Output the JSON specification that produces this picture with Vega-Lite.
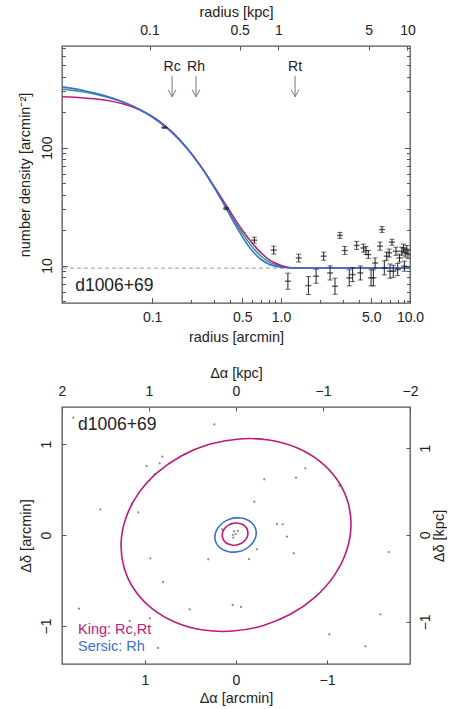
{
  "$schema": "https://vega.github.io/schema/vega-lite/v6.json",
  "padding": {"left": 16, "top": 3, "right": 0, "bottom": 0},
  "config": {
    "view": {"stroke": "#555", "strokeWidth": 1.3},
    "font": "Liberation Sans",
    "axis": {"domain": false, "grid": false, "labelFont": "Liberation Sans", "titleFont": "Liberation Sans", "labelFontSize": 14, "titleFontSize": 14.5, "titleFontWeight": "normal", "labelColor": "#222", "titleColor": "#222", "tickColor": "#555", "tickSize": -4, "labelPadding": 13, "titlePadding": 4, "labelFlush": false, "labelOverlap": false}
  },
  "datasets": {
    "green": [
      {"r": 0.02, "n": 315}, {"r": 0.03, "n": 296}, {"r": 0.04, "n": 277}, {"r": 0.05, "n": 259}, {"r": 0.06, "n": 242}, {"r": 0.08, "n": 210}, {"r": 0.1, "n": 183}, {"r": 0.125, "n": 153}, {"r": 0.15, "n": 128}, {"r": 0.18, "n": 103.4}, {"r": 0.21, "n": 84}, {"r": 0.25, "n": 64.3}, {"r": 0.3, "n": 47.2}, {"r": 0.35, "n": 35.7}, {"r": 0.4, "n": 28}, {"r": 0.45, "n": 22.5}, {"r": 0.5, "n": 18.8}, {"r": 0.6, "n": 14.3}, {"r": 0.7, "n": 12}, {"r": 0.8, "n": 10.8}, {"r": 0.9, "n": 10.2}, {"r": 1.0, "n": 9.85}, {"r": 1.1, "n": 9.65}, {"r": 1.2, "n": 9.55}, {"r": 1.3, "n": 9.5}, {"r": 10, "n": 9.5}
    ],
    "king": [
      {"r": 0.02, "n": 270.2}, {"r": 0.03, "n": 263.9}, {"r": 0.04, "n": 255.6}, {"r": 0.05, "n": 245.6}, {"r": 0.06, "n": 234.4}, {"r": 0.08, "n": 209.7}, {"r": 0.1, "n": 184.5}, {"r": 0.125, "n": 154.9}, {"r": 0.15, "n": 129.1}, {"r": 0.18, "n": 103.8}, {"r": 0.21, "n": 84.0}, {"r": 0.25, "n": 64.4}, {"r": 0.3, "n": 47.6}, {"r": 0.35, "n": 36.5}, {"r": 0.4, "n": 29.0}, {"r": 0.45, "n": 23.7}, {"r": 0.5, "n": 20.0}, {"r": 0.6, "n": 15.4}, {"r": 0.7, "n": 12.8}, {"r": 0.8, "n": 11.3}, {"r": 0.9, "n": 10.5}, {"r": 1.0, "n": 10.0}, {"r": 1.1, "n": 9.71}, {"r": 1.2, "n": 9.56}, {"r": 1.3, "n": 9.51}, {"r": 1.35, "n": 9.5}, {"r": 10, "n": 9.5}
    ],
    "sersic": [
      {"r": 0.02, "n": 327.5}, {"r": 0.03, "n": 304.1}, {"r": 0.04, "n": 282.4}, {"r": 0.05, "n": 262.3}, {"r": 0.06, "n": 243.6}, {"r": 0.08, "n": 210.4}, {"r": 0.1, "n": 182.0}, {"r": 0.125, "n": 151.9}, {"r": 0.15, "n": 127.1}, {"r": 0.18, "n": 103.0}, {"r": 0.21, "n": 83.8}, {"r": 0.25, "n": 64.2}, {"r": 0.3, "n": 46.8}, {"r": 0.35, "n": 35.0}, {"r": 0.4, "n": 26.9}, {"r": 0.45, "n": 21.35}, {"r": 0.5, "n": 17.58}, {"r": 0.6, "n": 13.26}, {"r": 0.7, "n": 11.25}, {"r": 0.8, "n": 10.31}, {"r": 0.9, "n": 9.88}, {"r": 1.0, "n": 9.68}, {"r": 1.1, "n": 9.58}, {"r": 1.2, "n": 9.54}, {"r": 1.3, "n": 9.52}, {"r": 1.5, "n": 9.5}, {"r": 10, "n": 9.5}
    ],
    "obs": [
      {"r": 0.1245, "n": 148, "lo": 146, "hi": 150},
      {"r": 0.375, "n": 30.5, "lo": 29.8, "hi": 31.2},
      {"r": 0.621, "n": 16.4, "lo": 15.5, "hi": 17.4},
      {"r": 0.877, "n": 13.5, "lo": 12.5, "hi": 14.6},
      {"r": 1.13, "n": 7.36, "lo": 6.29, "hi": 8.61},
      {"r": 1.37, "n": 11.6, "lo": 10.7, "hi": 12.5},
      {"r": 1.63, "n": 6.76, "lo": 5.67, "hi": 8.06},
      {"r": 1.87, "n": 8.1, "lo": 7.06, "hi": 9.29},
      {"r": 2.14, "n": 12.0, "lo": 11.1, "hi": 13.0},
      {"r": 2.4, "n": 8.65, "lo": 7.54, "hi": 9.92},
      {"r": 2.62, "n": 6.67, "lo": 5.7, "hi": 7.8},
      {"r": 2.86, "n": 18.0, "lo": 17.0, "hi": 19.1},
      {"r": 3.12, "n": 13.4, "lo": 12.4, "hi": 14.5},
      {"r": 3.38, "n": 7.86, "lo": 6.72, "hi": 9.2},
      {"r": 3.59, "n": 8.38, "lo": 7.31, "hi": 9.61},
      {"r": 3.86, "n": 14.8, "lo": 13.7, "hi": 16.0},
      {"r": 4.12, "n": 8.65, "lo": 7.54, "hi": 9.92},
      {"r": 4.35, "n": 14.1, "lo": 13.0, "hi": 15.2},
      {"r": 4.56, "n": 13.4, "lo": 12.4, "hi": 14.5},
      {"r": 4.75, "n": 12.4, "lo": 11.5, "hi": 13.4},
      {"r": 4.99, "n": 7.86, "lo": 6.72, "hi": 9.2},
      {"r": 5.2, "n": 7.86, "lo": 6.72, "hi": 9.2},
      {"r": 5.36, "n": 10.5, "lo": 9.52, "hi": 11.6},
      {"r": 5.85, "n": 14.6, "lo": 13.5, "hi": 15.8},
      {"r": 6.07, "n": 20.2, "lo": 19.1, "hi": 21.4},
      {"r": 6.32, "n": 9.55, "lo": 8.33, "hi": 10.95},
      {"r": 6.6, "n": 12.0, "lo": 11.1, "hi": 13.0},
      {"r": 6.9, "n": 12.8, "lo": 11.8, "hi": 13.8},
      {"r": 7.25, "n": 15.8, "lo": 14.9, "hi": 16.7},
      {"r": 7.0, "n": 8.95, "lo": 7.8, "hi": 10.3},
      {"r": 7.42, "n": 8.94, "lo": 7.95, "hi": 10.06},
      {"r": 7.78, "n": 13.2, "lo": 12.2, "hi": 14.3},
      {"r": 8.03, "n": 9.25, "lo": 8.22, "hi": 10.4},
      {"r": 8.29, "n": 11.6, "lo": 10.7, "hi": 12.5},
      {"r": 8.65, "n": 13.2, "lo": 12.2, "hi": 14.3},
      {"r": 8.9, "n": 14.1, "lo": 13.0, "hi": 15.2},
      {"r": 9.17, "n": 12.8, "lo": 11.8, "hi": 13.8},
      {"r": 9.45, "n": 13.7, "lo": 12.7, "hi": 14.8},
      {"r": 9.65, "n": 12.4, "lo": 11.5, "hi": 13.4},
      {"r": 9.04, "n": 9.87, "lo": 8.95, "hi": 10.9}
    ],
    "arrows": [
      {"r": 0.1429, "n1": 407, "n2": 270, "nt": 479, "lab": "Rc"},
      {"r": 0.219, "n1": 407, "n2": 270, "nt": 479, "lab": "Rh"},
      {"r": 1.284, "n1": 407, "n2": 270, "nt": 479, "lab": "Rt"}
    ],
    "stars": [
      {"a": 1.788, "d": 1.289}, {"a": 0.238, "d": 1.216}, {"a": 0.557, "d": 0.89}, {"a": 0.81, "d": 0.861}, {"a": 0.838, "d": 0.788}, {"a": 0.981, "d": 0.758}, {"a": 0.893, "d": 0.67}, {"a": -0.762, "d": 0.733}, {"a": -0.659, "d": 0.63}, {"a": -0.311, "d": 0.612}, {"a": -1.135, "d": 0.542}, {"a": -0.201, "d": 0.366}, {"a": 1.491, "d": 0.282}, {"a": 1.146, "d": 0.341}, {"a": 1.073, "d": 0.249}, {"a": -0.451, "d": 0.121}, {"a": -0.513, "d": 0.118}, {"a": -0.56, "d": -0.018}, {"a": -0.231, "d": -0.158}, {"a": 0.942, "d": -0.256}, {"a": 0.304, "d": -0.267}, {"a": -0.143, "d": -0.264}, {"a": -0.634, "d": -0.201}, {"a": -1.678, "d": -0.187}, {"a": 0.802, "d": -0.516}, {"a": 1.725, "d": -0.81}, {"a": 0.509, "d": -0.817}, {"a": 0.037, "d": -0.769}, {"a": -0.055, "d": -0.791}, {"a": 0.945, "d": -0.916}, {"a": 1.168, "d": -0.945}, {"a": -1.586, "d": -0.872}, {"a": -1.026, "d": -1.092}, {"a": -1.421, "d": -1.223}, {"a": 0.857, "d": -1.242},
      {"a": 0.02, "d": 0.04}, {"a": -0.02, "d": 0.045}, {"a": 0.005, "d": 0.01}, {"a": 0.035, "d": 0.0}, {"a": 0.03, "d": -0.03}, {"a": 0.154, "d": 0.062}
    ],
    "ellipses": [
      {"e": "Rt", "i": 0, "a": -1.229, "d": 0.362}, {"e": "Rt", "i": 1, "a": -1.112, "d": 0.607}, {"e": "Rt", "i": 2, "a": -0.918, "d": 0.812}, {"e": "Rt", "i": 3, "a": -0.662, "d": 0.961}, {"e": "Rt", "i": 4, "a": -0.361, "d": 1.044}, {"e": "Rt", "i": 5, "a": -0.035, "d": 1.056}, {"e": "Rt", "i": 6, "a": 0.293, "d": 0.997}, {"e": "Rt", "i": 7, "a": 0.602, "d": 0.869}, {"e": "Rt", "i": 8, "a": 0.869, "d": 0.682}, {"e": "Rt", "i": 9, "a": 1.077, "d": 0.449}, {"e": "Rt", "i": 10, "a": 1.211, "d": 0.185}, {"e": "Rt", "i": 11, "a": 1.263, "d": -0.092}, {"e": "Rt", "i": 12, "a": 1.229, "d": -0.362}, {"e": "Rt", "i": 13, "a": 1.112, "d": -0.607}, {"e": "Rt", "i": 14, "a": 0.918, "d": -0.812}, {"e": "Rt", "i": 15, "a": 0.662, "d": -0.961}, {"e": "Rt", "i": 16, "a": 0.361, "d": -1.044}, {"e": "Rt", "i": 17, "a": 0.035, "d": -1.056}, {"e": "Rt", "i": 18, "a": -0.293, "d": -0.997}, {"e": "Rt", "i": 19, "a": -0.602, "d": -0.869}, {"e": "Rt", "i": 20, "a": -0.869, "d": -0.682}, {"e": "Rt", "i": 21, "a": -1.077, "d": -0.449}, {"e": "Rt", "i": 22, "a": -1.211, "d": -0.185}, {"e": "Rt", "i": 23, "a": -1.263, "d": 0.092},
      {"e": "Rc", "i": 0, "a": -0.127, "d": 0.05}, {"e": "Rc", "i": 1, "a": -0.114, "d": 0.079}, {"e": "Rc", "i": 2, "a": -0.092, "d": 0.103}, {"e": "Rc", "i": 3, "a": -0.063, "d": 0.12}, {"e": "Rc", "i": 4, "a": -0.029, "d": 0.13}, {"e": "Rc", "i": 5, "a": 0.007, "d": 0.132}, {"e": "Rc", "i": 6, "a": 0.044, "d": 0.125}, {"e": "Rc", "i": 7, "a": 0.078, "d": 0.111}, {"e": "Rc", "i": 8, "a": 0.108, "d": 0.09}, {"e": "Rc", "i": 9, "a": 0.131, "d": 0.063}, {"e": "Rc", "i": 10, "a": 0.146, "d": 0.033}, {"e": "Rc", "i": 11, "a": 0.151, "d": 0.001}, {"e": "Rc", "i": 12, "a": 0.147, "d": -0.03}, {"e": "Rc", "i": 13, "a": 0.134, "d": -0.059}, {"e": "Rc", "i": 14, "a": 0.112, "d": -0.083}, {"e": "Rc", "i": 15, "a": 0.083, "d": -0.1}, {"e": "Rc", "i": 16, "a": 0.049, "d": -0.11}, {"e": "Rc", "i": 17, "a": 0.013, "d": -0.112}, {"e": "Rc", "i": 18, "a": -0.024, "d": -0.105}, {"e": "Rc", "i": 19, "a": -0.058, "d": -0.091}, {"e": "Rc", "i": 20, "a": -0.088, "d": -0.07}, {"e": "Rc", "i": 21, "a": -0.111, "d": -0.043}, {"e": "Rc", "i": 22, "a": -0.126, "d": -0.013}, {"e": "Rc", "i": 23, "a": -0.131, "d": 0.019},
      {"e": "Rh", "i": 0, "a": -0.216, "d": 0.065}, {"e": "Rh", "i": 1, "a": -0.195, "d": 0.109}, {"e": "Rh", "i": 2, "a": -0.16, "d": 0.145}, {"e": "Rh", "i": 3, "a": -0.114, "d": 0.171}, {"e": "Rh", "i": 4, "a": -0.06, "d": 0.186}, {"e": "Rh", "i": 5, "a": -0.002, "d": 0.188}, {"e": "Rh", "i": 6, "a": 0.057, "d": 0.178}, {"e": "Rh", "i": 7, "a": 0.113, "d": 0.155}, {"e": "Rh", "i": 8, "a": 0.161, "d": 0.121}, {"e": "Rh", "i": 9, "a": 0.198, "d": 0.08}, {"e": "Rh", "i": 10, "a": 0.222, "d": 0.033}, {"e": "Rh", "i": 11, "a": 0.232, "d": -0.017}, {"e": "Rh", "i": 12, "a": 0.226, "d": -0.065}, {"e": "Rh", "i": 13, "a": 0.205, "d": -0.109}, {"e": "Rh", "i": 14, "a": 0.17, "d": -0.145}, {"e": "Rh", "i": 15, "a": 0.124, "d": -0.171}, {"e": "Rh", "i": 16, "a": 0.07, "d": -0.186}, {"e": "Rh", "i": 17, "a": 0.012, "d": -0.188}, {"e": "Rh", "i": 18, "a": -0.047, "d": -0.178}, {"e": "Rh", "i": 19, "a": -0.103, "d": -0.155}, {"e": "Rh", "i": 20, "a": -0.151, "d": -0.121}, {"e": "Rh", "i": 21, "a": -0.188, "d": -0.08}, {"e": "Rh", "i": 22, "a": -0.212, "d": -0.033}, {"e": "Rh", "i": 23, "a": -0.222, "d": 0.017}
    ]
  },
  "vconcat": [
    {
      "width": 348,
      "height": 257,
      "layer": [
        {
          "data": {"name": "king"},
          "mark": {"type": "line", "color": "#c2187a", "strokeWidth": 1.5, "interpolate": "monotone", "opacity": 0},
          "encoding": {
            "x": {"field": "r", "type": "quantitative", "scale": {"type": "log", "domain": [0.02, 10], "nice": false},
              "axis": {"orient": "bottom", "title": "radius [arcmin]", "values": [0.1, 0.2, 0.3, 0.4, 0.5, 0.6, 0.7, 0.8, 0.9, 1, 2, 3, 4, 5, 6, 7, 8, 9, 10],
                "tickSize": {"condition": {"test": "datum.value == 0.1 || datum.value == 0.5 || datum.value == 1 || datum.value == 5 || datum.value == 10", "value": -5.5}, "value": -3.5},
                "labelExpr": "datum.value == 0.1 ? '0.1' : datum.value == 0.5 ? '0.5' : datum.value == 1 ? '1.0' : datum.value == 5 ? '5.0' : datum.value == 10 ? '10.0' : ''"}},
            "y": {"field": "n", "type": "quantitative", "scale": {"type": "log", "domain": [4.81, 728], "nice": false},
              "axis": {"orient": "left", "title": "number density [arcmin⁻²]", "labelAngle": -90, "values": [5, 6, 7, 8, 9, 10, 20, 30, 40, 50, 60, 70, 80, 90, 100, 200, 300, 400, 500, 600, 700],
                "tickSize": {"condition": {"test": "datum.value == 10 || datum.value == 100", "value": -5.5}, "value": -3.5},
                "labelExpr": "datum.value == 10 ? '10' : datum.value == 100 ? '100' : ''", "titlePadding": 6}}
          }
        },
        {
          "data": {"values": [{"k": 1, "m": 10}]},
          "mark": {"type": "point", "opacity": 0},
          "encoding": {
            "x": {"field": "k", "type": "quantitative", "scale": {"type": "log", "domain": [0.02094, 10.47], "nice": false},
              "axis": {"orient": "top", "title": "radius [kpc]", "values": [0.1, 0.5, 1, 5, 10], "format": "~g"}},
            "y": {"field": "m", "type": "quantitative", "scale": {"type": "log", "domain": [4.81, 728], "nice": false},
              "axis": {"orient": "right", "title": null, "labels": false, "values": [5, 6, 7, 8, 9, 10, 20, 30, 40, 50, 60, 70, 80, 90, 100, 200, 300, 400, 500, 600, 700],
                "tickSize": {"condition": {"test": "datum.value == 10 || datum.value == 100", "value": -5.5}, "value": -3.5}}}
          }
        },
        {
          "data": {"values": [{"n": 9.5}]},
          "mark": {"type": "rule", "strokeDash": [4, 3], "color": "#999", "strokeWidth": 1},
          "encoding": {"y": {"field": "n", "type": "quantitative", "scale": {"type": "log", "domain": [4.81, 728], "nice": false}, "axis": null}}
        },
        {
          "data": {"name": "green"},
          "mark": {"type": "line", "color": "#2e9a86", "strokeWidth": 1.5, "interpolate": "monotone"},
          "encoding": {
            "x": {"field": "r", "type": "quantitative", "scale": {"type": "log", "domain": [0.02, 10], "nice": false}, "axis": null},
            "y": {"field": "n", "type": "quantitative", "scale": {"type": "log", "domain": [4.81, 728], "nice": false}, "axis": null}
          }
        },
        {
          "data": {"name": "king"},
          "mark": {"type": "line", "color": "#c2187a", "strokeWidth": 1.5, "interpolate": "monotone"},
          "encoding": {
            "x": {"field": "r", "type": "quantitative", "scale": {"type": "log", "domain": [0.02, 10], "nice": false}, "axis": null},
            "y": {"field": "n", "type": "quantitative", "scale": {"type": "log", "domain": [4.81, 728], "nice": false}, "axis": null}
          }
        },
        {
          "data": {"name": "sersic"},
          "mark": {"type": "line", "color": "#3a6fd8", "strokeWidth": 1.6, "interpolate": "monotone"},
          "encoding": {
            "x": {"field": "r", "type": "quantitative", "scale": {"type": "log", "domain": [0.02, 10], "nice": false}, "axis": null},
            "y": {"field": "n", "type": "quantitative", "scale": {"type": "log", "domain": [4.81, 728], "nice": false}, "axis": null}
          }
        },
        {
          "data": {"name": "obs"},
          "mark": {"type": "rule", "color": "#222", "strokeWidth": 1},
          "encoding": {
            "x": {"field": "r", "type": "quantitative", "scale": {"type": "log", "domain": [0.02, 10], "nice": false}, "axis": null},
            "y": {"field": "lo", "type": "quantitative", "scale": {"type": "log", "domain": [4.81, 728], "nice": false}, "axis": null},
            "y2": {"field": "hi"}
          }
        },
        {
          "data": {"name": "obs"},
          "mark": {"type": "tick", "orient": "horizontal", "color": "#222", "size": 5, "thickness": 1},
          "encoding": {
            "x": {"field": "r", "type": "quantitative", "scale": {"type": "log", "domain": [0.02, 10], "nice": false}, "axis": null},
            "y": {"field": "lo", "type": "quantitative", "scale": {"type": "log", "domain": [4.81, 728], "nice": false}, "axis": null}
          }
        },
        {
          "data": {"name": "obs"},
          "mark": {"type": "tick", "orient": "horizontal", "color": "#222", "size": 5, "thickness": 1},
          "encoding": {
            "x": {"field": "r", "type": "quantitative", "scale": {"type": "log", "domain": [0.02, 10], "nice": false}, "axis": null},
            "y": {"field": "hi", "type": "quantitative", "scale": {"type": "log", "domain": [4.81, 728], "nice": false}, "axis": null}
          }
        },
        {
          "data": {"name": "obs"},
          "mark": {"type": "tick", "orient": "horizontal", "color": "#222", "size": 6, "thickness": 1.5},
          "encoding": {
            "x": {"field": "r", "type": "quantitative", "scale": {"type": "log", "domain": [0.02, 10], "nice": false}, "axis": null},
            "y": {"field": "n", "type": "quantitative", "scale": {"type": "log", "domain": [4.81, 728], "nice": false}, "axis": null}
          }
        },
        {
          "data": {"name": "arrows"},
          "mark": {"type": "rule", "color": "#777", "strokeWidth": 1},
          "encoding": {
            "x": {"field": "r", "type": "quantitative", "scale": {"type": "log", "domain": [0.02, 10], "nice": false}, "axis": null},
            "y": {"field": "n1", "type": "quantitative", "scale": {"type": "log", "domain": [4.81, 728], "nice": false}, "axis": null},
            "y2": {"field": "n2"}
          }
        },
        {
          "data": {"name": "arrows"},
          "mark": {"type": "point", "shape": "M-1,-1.8L0,0L1,-1.8", "filled": false, "stroke": "#777", "strokeWidth": 1, "size": 60, "opacity": 1},
          "encoding": {
            "x": {"field": "r", "type": "quantitative", "scale": {"type": "log", "domain": [0.02, 10], "nice": false}, "axis": null},
            "y": {"field": "n2", "type": "quantitative", "scale": {"type": "log", "domain": [4.81, 728], "nice": false}, "axis": null}
          }
        },
        {
          "data": {"name": "arrows"},
          "mark": {"type": "text", "fontSize": 14, "color": "#222", "baseline": "middle", "align": "center"},
          "encoding": {
            "x": {"field": "r", "type": "quantitative", "scale": {"type": "log", "domain": [0.02, 10], "nice": false}, "axis": null},
            "y": {"field": "nt", "type": "quantitative", "scale": {"type": "log", "domain": [4.81, 728], "nice": false}, "axis": null},
            "text": {"field": "lab"}
          }
        },
        {
          "data": {"values": [{"r": 0.0253, "n": 6.67, "t": "d1006+69"}]},
          "mark": {"type": "text", "fontSize": 17.5, "color": "#222", "baseline": "middle", "align": "left"},
          "encoding": {
            "x": {"field": "r", "type": "quantitative", "scale": {"type": "log", "domain": [0.02, 10], "nice": false}, "axis": null},
            "y": {"field": "n", "type": "quantitative", "scale": {"type": "log", "domain": [4.81, 728], "nice": false}, "axis": null},
            "text": {"field": "t"}
          }
        }
      ],
      "resolve": {"scale": {"x": "independent", "y": "independent"}, "axis": {"x": "independent", "y": "independent"}}
    },
    {
      "width": 348,
      "height": 257,
      "layer": [
        {
          "data": {"name": "stars"},
          "mark": {"type": "circle", "color": "#888", "size": 5, "opacity": 1},
          "encoding": {
            "x": {"field": "a", "type": "quantitative", "scale": {"domain": [-1.912, 1.912], "reverse": true, "nice": false, "zero": false},
              "axis": {"orient": "bottom", "title": "Δα [arcmin]", "values": [-1, 0, 1]}},
            "y": {"field": "d", "type": "quantitative", "scale": {"domain": [-1.418, 1.407], "nice": false, "zero": false},
              "axis": {"orient": "left", "title": "Δδ [arcmin]", "values": [-1, 0, 1], "labelAngle": -90, "titlePadding": 6}}
          }
        },
        {
          "data": {"values": [{"k": 0, "m": 0}]},
          "mark": {"type": "point", "opacity": 0},
          "encoding": {
            "x": {"field": "k", "type": "quantitative", "scale": {"domain": [-2.0, 2.0], "reverse": true, "nice": false, "zero": false},
              "axis": {"orient": "top", "title": "Δα [kpc]", "values": [-2, -1, 0, 1, 2]}},
            "y": {"field": "m", "type": "quantitative", "scale": {"domain": [-1.485, 1.473], "nice": false, "zero": false},
              "axis": {"orient": "right", "title": "Δδ [kpc]", "values": [-1, 0, 1], "labelAngle": -90, "titleAngle": -90, "titleBaseline": "top", "labelPadding": 12, "titlePadding": 0}}
          }
        },
        {
          "data": {"name": "ellipses"},
          "mark": {"type": "line", "strokeWidth": 1.6, "interpolate": "cardinal-closed"},
          "encoding": {
            "x": {"field": "a", "type": "quantitative", "scale": {"domain": [-1.912, 1.912], "reverse": true, "nice": false, "zero": false}, "axis": null},
            "y": {"field": "d", "type": "quantitative", "scale": {"domain": [-1.418, 1.407], "nice": false, "zero": false}, "axis": null},
            "detail": {"field": "e"},
            "color": {"field": "e", "type": "nominal", "scale": {"domain": ["Rt", "Rc", "Rh"], "range": ["#c2187a", "#c2187a", "#3a6fd8"]}, "legend": null},
            "order": {"field": "i", "type": "quantitative"}
          }
        },
        {
          "data": {"values": [{"a": 1.736, "d": 1.209, "t": "d1006+69"}]},
          "mark": {"type": "text", "baseline": "middle", "align": "left", "fontSize": 17.5, "color": "#222"},
          "encoding": {
            "x": {"field": "a", "type": "quantitative", "scale": {"domain": [-1.912, 1.912], "reverse": true, "nice": false, "zero": false}, "axis": null},
            "y": {"field": "d", "type": "quantitative", "scale": {"domain": [-1.418, 1.407], "nice": false, "zero": false}, "axis": null},
            "text": {"field": "t"}
          }
        },
        {
          "data": {"values": [{"a": 1.736, "d": -1.044, "t": "King: Rc,Rt"}]},
          "mark": {"type": "text", "baseline": "middle", "align": "left", "fontSize": 14.5, "color": "#c2187a"},
          "encoding": {
            "x": {"field": "a", "type": "quantitative", "scale": {"domain": [-1.912, 1.912], "reverse": true, "nice": false, "zero": false}, "axis": null},
            "y": {"field": "d", "type": "quantitative", "scale": {"domain": [-1.418, 1.407], "nice": false, "zero": false}, "axis": null},
            "text": {"field": "t"}
          }
        },
        {
          "data": {"values": [{"a": 1.736, "d": -1.231, "t": "Sersic: Rh"}]},
          "mark": {"type": "text", "baseline": "middle", "align": "left", "fontSize": 14.5, "color": "#3a6fd8"},
          "encoding": {
            "x": {"field": "a", "type": "quantitative", "scale": {"domain": [-1.912, 1.912], "reverse": true, "nice": false, "zero": false}, "axis": null},
            "y": {"field": "d", "type": "quantitative", "scale": {"domain": [-1.418, 1.407], "nice": false, "zero": false}, "axis": null},
            "text": {"field": "t"}
          }
        }
      ],
      "resolve": {"scale": {"x": "independent", "y": "independent"}, "axis": {"x": "independent", "y": "independent"}}
    }
  ],
  "spacing": 19
}
